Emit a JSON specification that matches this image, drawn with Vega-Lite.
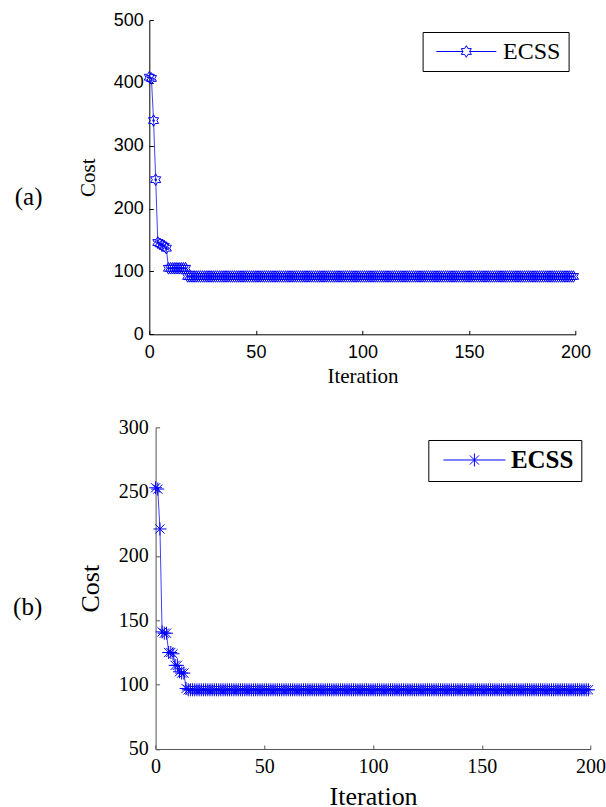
{
"$schema": "https://vega.github.io/schema/vega-lite/v6.json",
"background": "white",
"padding": {"left": 12.3, "top": 11, "right": 0, "bottom": 0},
"autosize": {"type": "pad"},
"spacing": 30.3,
"columns": 1,
"align": "none",
"bounds": "full",
"config": {"view": {"stroke": null}, "axis": {"grid": false}},
"resolve": {"scale": {"color": "independent"}, "legend": {"color": "independent"}},
"datasets": {
"a": [{"i":0,"c":409},{"i":1,"c":407},{"i":2,"c":340},{"i":3,"c":246},{"i":4,"c":146},{"i":5,"c":144},{"i":6,"c":142},{"i":7,"c":140},{"i":8,"c":137},{"i":9,"c":105},{"i":10,"c":105},{"i":11,"c":105},{"i":12,"c":105},{"i":13,"c":105},{"i":14,"c":105},{"i":15,"c":105},{"i":16,"c":105},{"i":17,"c":105},{"i":18,"c":92},{"i":19,"c":92},{"i":20,"c":92},{"i":21,"c":92},{"i":22,"c":92},{"i":23,"c":92},{"i":24,"c":92},{"i":25,"c":92},{"i":26,"c":92},{"i":27,"c":92},{"i":28,"c":92},{"i":29,"c":92},{"i":30,"c":92},{"i":31,"c":92},{"i":32,"c":92},{"i":33,"c":92},{"i":34,"c":92},{"i":35,"c":92},{"i":36,"c":92},{"i":37,"c":92},{"i":38,"c":92},{"i":39,"c":92},{"i":40,"c":92},{"i":41,"c":92},{"i":42,"c":92},{"i":43,"c":92},{"i":44,"c":92},{"i":45,"c":92},{"i":46,"c":92},{"i":47,"c":92},{"i":48,"c":92},{"i":49,"c":92},{"i":50,"c":92},{"i":51,"c":92},{"i":52,"c":92},{"i":53,"c":92},{"i":54,"c":92},{"i":55,"c":92},{"i":56,"c":92},{"i":57,"c":92},{"i":58,"c":92},{"i":59,"c":92},{"i":60,"c":92},{"i":61,"c":92},{"i":62,"c":92},{"i":63,"c":92},{"i":64,"c":92},{"i":65,"c":92},{"i":66,"c":92},{"i":67,"c":92},{"i":68,"c":92},{"i":69,"c":92},{"i":70,"c":92},{"i":71,"c":92},{"i":72,"c":92},{"i":73,"c":92},{"i":74,"c":92},{"i":75,"c":92},{"i":76,"c":92},{"i":77,"c":92},{"i":78,"c":92},{"i":79,"c":92},{"i":80,"c":92},{"i":81,"c":92},{"i":82,"c":92},{"i":83,"c":92},{"i":84,"c":92},{"i":85,"c":92},{"i":86,"c":92},{"i":87,"c":92},{"i":88,"c":92},{"i":89,"c":92},{"i":90,"c":92},{"i":91,"c":92},{"i":92,"c":92},{"i":93,"c":92},{"i":94,"c":92},{"i":95,"c":92},{"i":96,"c":92},{"i":97,"c":92},{"i":98,"c":92},{"i":99,"c":92},{"i":100,"c":92},{"i":101,"c":92},{"i":102,"c":92},{"i":103,"c":92},{"i":104,"c":92},{"i":105,"c":92},{"i":106,"c":92},{"i":107,"c":92},{"i":108,"c":92},{"i":109,"c":92},{"i":110,"c":92},{"i":111,"c":92},{"i":112,"c":92},{"i":113,"c":92},{"i":114,"c":92},{"i":115,"c":92},{"i":116,"c":92},{"i":117,"c":92},{"i":118,"c":92},{"i":119,"c":92},{"i":120,"c":92},{"i":121,"c":92},{"i":122,"c":92},{"i":123,"c":92},{"i":124,"c":92},{"i":125,"c":92},{"i":126,"c":92},{"i":127,"c":92},{"i":128,"c":92},{"i":129,"c":92},{"i":130,"c":92},{"i":131,"c":92},{"i":132,"c":92},{"i":133,"c":92},{"i":134,"c":92},{"i":135,"c":92},{"i":136,"c":92},{"i":137,"c":92},{"i":138,"c":92},{"i":139,"c":92},{"i":140,"c":92},{"i":141,"c":92},{"i":142,"c":92},{"i":143,"c":92},{"i":144,"c":92},{"i":145,"c":92},{"i":146,"c":92},{"i":147,"c":92},{"i":148,"c":92},{"i":149,"c":92},{"i":150,"c":92},{"i":151,"c":92},{"i":152,"c":92},{"i":153,"c":92},{"i":154,"c":92},{"i":155,"c":92},{"i":156,"c":92},{"i":157,"c":92},{"i":158,"c":92},{"i":159,"c":92},{"i":160,"c":92},{"i":161,"c":92},{"i":162,"c":92},{"i":163,"c":92},{"i":164,"c":92},{"i":165,"c":92},{"i":166,"c":92},{"i":167,"c":92},{"i":168,"c":92},{"i":169,"c":92},{"i":170,"c":92},{"i":171,"c":92},{"i":172,"c":92},{"i":173,"c":92},{"i":174,"c":92},{"i":175,"c":92},{"i":176,"c":92},{"i":177,"c":92},{"i":178,"c":92},{"i":179,"c":92},{"i":180,"c":92},{"i":181,"c":92},{"i":182,"c":92},{"i":183,"c":92},{"i":184,"c":92},{"i":185,"c":92},{"i":186,"c":92},{"i":187,"c":92},{"i":188,"c":92},{"i":189,"c":92},{"i":190,"c":92},{"i":191,"c":92},{"i":192,"c":92},{"i":193,"c":92},{"i":194,"c":92},{"i":195,"c":92},{"i":196,"c":92},{"i":197,"c":92},{"i":198,"c":92},{"i":199,"c":92}],
"b": [{"i":0,"c":253},{"i":1,"c":252},{"i":2,"c":221},{"i":3,"c":141},{"i":4,"c":140},{"i":5,"c":140},{"i":6,"c":125},{"i":7,"c":125},{"i":8,"c":124},{"i":9,"c":115},{"i":10,"c":115},{"i":11,"c":110},{"i":12,"c":109},{"i":13,"c":109},{"i":14,"c":97},{"i":15,"c":96},{"i":16,"c":96},{"i":17,"c":96},{"i":18,"c":96},{"i":19,"c":96},{"i":20,"c":96},{"i":21,"c":96},{"i":22,"c":96},{"i":23,"c":96},{"i":24,"c":96},{"i":25,"c":96},{"i":26,"c":96},{"i":27,"c":96},{"i":28,"c":96},{"i":29,"c":96},{"i":30,"c":96},{"i":31,"c":96},{"i":32,"c":96},{"i":33,"c":96},{"i":34,"c":96},{"i":35,"c":96},{"i":36,"c":96},{"i":37,"c":96},{"i":38,"c":96},{"i":39,"c":96},{"i":40,"c":96},{"i":41,"c":96},{"i":42,"c":96},{"i":43,"c":96},{"i":44,"c":96},{"i":45,"c":96},{"i":46,"c":96},{"i":47,"c":96},{"i":48,"c":96},{"i":49,"c":96},{"i":50,"c":96},{"i":51,"c":96},{"i":52,"c":96},{"i":53,"c":96},{"i":54,"c":96},{"i":55,"c":96},{"i":56,"c":96},{"i":57,"c":96},{"i":58,"c":96},{"i":59,"c":96},{"i":60,"c":96},{"i":61,"c":96},{"i":62,"c":96},{"i":63,"c":96},{"i":64,"c":96},{"i":65,"c":96},{"i":66,"c":96},{"i":67,"c":96},{"i":68,"c":96},{"i":69,"c":96},{"i":70,"c":96},{"i":71,"c":96},{"i":72,"c":96},{"i":73,"c":96},{"i":74,"c":96},{"i":75,"c":96},{"i":76,"c":96},{"i":77,"c":96},{"i":78,"c":96},{"i":79,"c":96},{"i":80,"c":96},{"i":81,"c":96},{"i":82,"c":96},{"i":83,"c":96},{"i":84,"c":96},{"i":85,"c":96},{"i":86,"c":96},{"i":87,"c":96},{"i":88,"c":96},{"i":89,"c":96},{"i":90,"c":96},{"i":91,"c":96},{"i":92,"c":96},{"i":93,"c":96},{"i":94,"c":96},{"i":95,"c":96},{"i":96,"c":96},{"i":97,"c":96},{"i":98,"c":96},{"i":99,"c":96},{"i":100,"c":96},{"i":101,"c":96},{"i":102,"c":96},{"i":103,"c":96},{"i":104,"c":96},{"i":105,"c":96},{"i":106,"c":96},{"i":107,"c":96},{"i":108,"c":96},{"i":109,"c":96},{"i":110,"c":96},{"i":111,"c":96},{"i":112,"c":96},{"i":113,"c":96},{"i":114,"c":96},{"i":115,"c":96},{"i":116,"c":96},{"i":117,"c":96},{"i":118,"c":96},{"i":119,"c":96},{"i":120,"c":96},{"i":121,"c":96},{"i":122,"c":96},{"i":123,"c":96},{"i":124,"c":96},{"i":125,"c":96},{"i":126,"c":96},{"i":127,"c":96},{"i":128,"c":96},{"i":129,"c":96},{"i":130,"c":96},{"i":131,"c":96},{"i":132,"c":96},{"i":133,"c":96},{"i":134,"c":96},{"i":135,"c":96},{"i":136,"c":96},{"i":137,"c":96},{"i":138,"c":96},{"i":139,"c":96},{"i":140,"c":96},{"i":141,"c":96},{"i":142,"c":96},{"i":143,"c":96},{"i":144,"c":96},{"i":145,"c":96},{"i":146,"c":96},{"i":147,"c":96},{"i":148,"c":96},{"i":149,"c":96},{"i":150,"c":96},{"i":151,"c":96},{"i":152,"c":96},{"i":153,"c":96},{"i":154,"c":96},{"i":155,"c":96},{"i":156,"c":96},{"i":157,"c":96},{"i":158,"c":96},{"i":159,"c":96},{"i":160,"c":96},{"i":161,"c":96},{"i":162,"c":96},{"i":163,"c":96},{"i":164,"c":96},{"i":165,"c":96},{"i":166,"c":96},{"i":167,"c":96},{"i":168,"c":96},{"i":169,"c":96},{"i":170,"c":96},{"i":171,"c":96},{"i":172,"c":96},{"i":173,"c":96},{"i":174,"c":96},{"i":175,"c":96},{"i":176,"c":96},{"i":177,"c":96},{"i":178,"c":96},{"i":179,"c":96},{"i":180,"c":96},{"i":181,"c":96},{"i":182,"c":96},{"i":183,"c":96},{"i":184,"c":96},{"i":185,"c":96},{"i":186,"c":96},{"i":187,"c":96},{"i":188,"c":96},{"i":189,"c":96},{"i":190,"c":96},{"i":191,"c":96},{"i":192,"c":96},{"i":193,"c":96},{"i":194,"c":96},{"i":195,"c":96},{"i":196,"c":96},{"i":197,"c":96},{"i":198,"c":96},{"i":199,"c":96}]
},
"concat": [
{
"width": 426.3, "height": 314.3,
"title": {"text": "(a)", "orient": "left", "angle": 0, "align": "right", "baseline": "middle", "anchor": "middle", "offset": 7.4, "dy": 20, "font": "Liberation Serif", "fontSize": 25, "fontWeight": "normal", "color": "black"},
"data": {"name": "a"},
"encoding": {
"x": {"field": "i", "type": "quantitative", "scale": {"domain": [0, 200], "nice": false},
"axis": {"values": [0, 50, 100, 150, 200], "title": "Iteration", "titleFont": "Liberation Serif", "titleFontSize": 21, "titleFontWeight": "normal", "titleColor": "black", "titlePadding": 4, "labelFont": "Liberation Sans", "labelFontSize": 18, "labelColor": "black", "labelPadding": 13.4, "labelFlush": false, "labelOverlap": false, "tickSize": -4, "tickColor": "black", "domainColor": "black", "grid": false}},
"y": {"field": "c", "type": "quantitative", "scale": {"domain": [0, 500], "nice": false, "zero": false},
"axis": {"values": [0, 100, 200, 300, 400, 500], "title": "Cost", "titleFont": "Liberation Serif", "titleFontSize": 21, "titleFontWeight": "normal", "titleColor": "black", "titlePadding": 14.6, "labelFont": "Liberation Sans", "labelFontSize": 18, "labelColor": "black", "labelPadding": 10, "labelFlush": false, "labelOverlap": false, "tickSize": -4, "tickColor": "black", "domainColor": "black", "grid": false}}
},
"layer": [
{"mark": {"type": "line", "color": "#0000ff", "strokeWidth": 0.75}},
{"mark": {"type": "point", "shape": "M0,-1L0.289,-0.5L0.866,-0.5L0.577,0L0.866,0.5L0.289,0.5L0,1L-0.289,0.5L-0.866,0.5L-0.577,0L-0.866,-0.5L-0.289,-0.5Z", "filled": false, "size": 135, "strokeWidth": 1, "opacity": 1},
"encoding": {"color": {"datum": "ECSS", "scale": {"range": ["#0000ff"]},
"legend": {"orient": "none", "legendX": 273.3, "legendY": 12, "title": null, "symbolType": "M-5.16,0L-0.577,0M0.577,0L5.16,0M0,-1L0.289,-0.5L0.866,-0.5L0.577,0L0.866,0.5L0.289,0.5L0,1L-0.289,0.5L-0.866,0.5L-0.577,0L-0.866,-0.5L-0.289,-0.5Z", "symbolSize": 135, "symbolStrokeWidth": 1, "symbolFillColor": "transparent", "symbolStrokeColor": "#0000ff", "symbolOffset": 24.2, "labelOffset": 24.7, "labelFont": "Liberation Serif", "labelFontSize": 24, "labelColor": "black", "padding": 7.5, "strokeColor": "black", "fillColor": "white", "cornerRadius": 0}}}},
{"mark": {"type": "point", "shape": "circle", "filled": true, "size": 6, "color": "#0000ff", "opacity": 1}}
]
},
{
"width": 441.3, "height": 321.7,
"title": {"text": "(b)", "orient": "left", "angle": 0, "align": "right", "baseline": "middle", "anchor": "middle", "offset": 5.7, "dy": 19, "font": "Liberation Serif", "fontSize": 25, "fontWeight": "normal", "color": "black"},
"data": {"name": "b"},
"encoding": {
"x": {"field": "i", "type": "quantitative", "scale": {"domain": [0, 200], "nice": false, "range": [6.3, 441.3]},
"axis": {"values": [0, 50, 100, 150, 200], "title": "Iteration", "titleFont": "Liberation Serif", "titleFontSize": 26, "titleFontWeight": "normal", "titleColor": "black", "titlePadding": 7.3, "labelFont": "Liberation Serif", "labelFontSize": 20, "labelColor": "black", "labelPadding": 11.7, "labelFlush": false, "labelOverlap": false, "tickSize": -4, "tickColor": "#555555", "domainColor": "#555555", "grid": false}},
"y": {"field": "c", "type": "quantitative", "scale": {"domain": [50, 300], "nice": false, "zero": false},
"axis": {"values": [50, 100, 150, 200, 250, 300], "offset": -6.3, "title": "Cost", "titleFont": "Liberation Serif", "titleFontSize": 26, "titleFontWeight": "normal", "titleColor": "black", "titlePadding": 15.2, "labelFont": "Liberation Serif", "labelFontSize": 20, "labelColor": "black", "labelPadding": 11.3, "labelFlush": false, "labelOverlap": false, "tickSize": -4, "tickColor": "#555555", "domainColor": "#555555", "grid": false}}
},
"layer": [
{"mark": {"type": "line", "color": "#0000ff", "strokeWidth": 0.75}},
{"mark": {"type": "point", "shape": "M-1,0L1,0M0,-1L0,1M-0.707,-0.707L0.707,0.707M-0.707,0.707L0.707,-0.707", "filled": false, "size": 169, "strokeWidth": 1, "opacity": 1},
"encoding": {"color": {"datum": "ECSS", "scale": {"range": ["#0000ff"]},
"legend": {"orient": "none", "legendX": 279, "legendY": 12.7, "title": null, "symbolType": "M-4.77,0L4.77,0M0,-1L0,1M-0.707,-0.707L0.707,0.707M-0.707,0.707L0.707,-0.707", "symbolSize": 169, "symbolStrokeWidth": 1, "symbolFillColor": "transparent", "symbolStrokeColor": "#0000ff", "symbolOffset": 26.1, "labelOffset": 24, "labelFont": "Liberation Serif", "labelFontSize": 25, "labelFontWeight": "bold", "labelColor": "black", "padding": 7.5, "strokeColor": "black", "fillColor": "white", "cornerRadius": 0}}}}
]
}
]
}
